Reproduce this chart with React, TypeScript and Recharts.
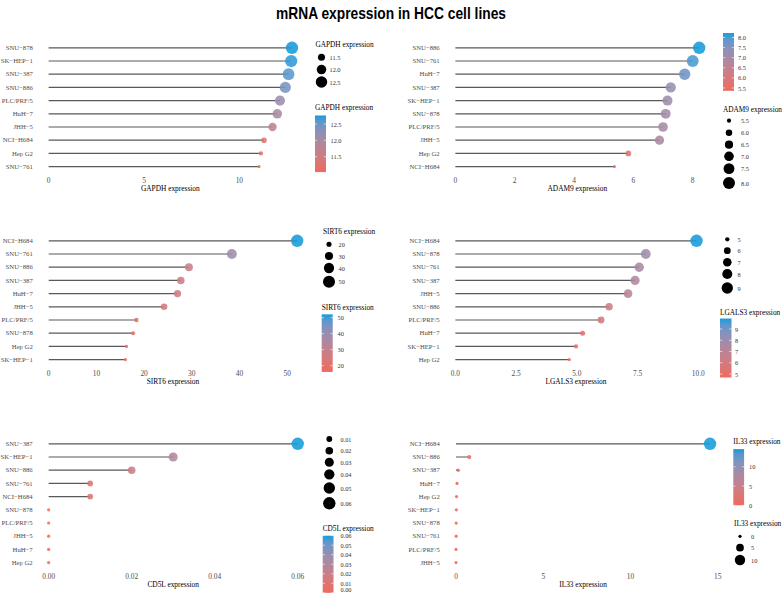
import React from 'react';
import { ComposedChart, Bar, XAxis, YAxis } from 'recharts';

// cell lines (top to bottom) and expression values, one pair per gene
const gapdhLines = ['SNU−878', 'SK−HEP−1', 'SNU−387', 'SNU−886', 'PLC/PRF/5', 'HuH−7', 'JHH−5', 'NCI−H684', 'Hep G2', 'SNU−761'];
const gapdhValues = [12.76, 12.72, 12.58, 12.41, 12.13, 11.99, 11.74, 11.29, 11.13, 11.03];

const adam9Lines = ['SNU−886', 'SNU−761', 'HuH−7', 'SNU−387', 'SK−HEP−1', 'SNU−878', 'PLC/PRF/5', 'JHH−5', 'Hep G2', 'NCI−H684'];
const adam9Values = [8.22, 8.0, 7.73, 7.26, 7.15, 7.09, 7.0, 6.88, 5.83, 5.36];

const sirt6Lines = ['NCI−H684', 'SNU−761', 'SNU−886', 'SNU−387', 'HuH−7', 'JHH−5', 'PLC/PRF/5', 'SNU−878', 'Hep G2', 'SK−HEP−1'];
const sirt6Values = [52.1, 38.4, 29.4, 27.7, 27.0, 24.2, 18.4, 17.7, 16.3, 16.1];

const lgals3Lines = ['NCI−H684', 'SNU−878', 'SNU−761', 'SNU−387', 'JHH−5', 'SNU−886', 'PLC/PRF/5', 'HuH−7', 'SK−HEP−1', 'Hep G2'];
const lgals3Values = [9.93, 7.84, 7.57, 7.4, 7.11, 6.33, 6.0, 5.24, 4.97, 4.69];

const cd5lLines = ['SNU−387', 'SK−HEP−1', 'SNU−886', 'SNU−761', 'NCI−H684', 'SNU−878', 'PLC/PRF/5', 'JHH−5', 'HuH−7', 'Hep G2'];
const cd5lValues = [0.06, 0.03, 0.02, 0.01, 0.01, 0, 0, 0, 0, 0];

const il33Lines = ['NCI−H684', 'SNU−886', 'SNU−387', 'HuH−7', 'Hep G2', 'SK−HEP−1', 'SNU−878', 'SNU−761', 'PLC/PRF/5', 'JHH−5'];
const il33Values = [14.56, 0.76, 0.13, 0.06, 0.03, 0.02, 0.01, 0.01, 0, 0];

// axis ticks
const gapdhTicks = [0, 5, 10];
const adam9Ticks = [0, 2, 4, 6, 8];
const sirt6Ticks = [0, 10, 20, 30, 40, 50];
const lgals3Ticks = [0, 2.5, 5, 7.5, 10];
const cd5lTicks = [0, 0.02, 0.04, 0.06];
const il33Ticks = [0, 5, 10, 15];

// legend breaks
const gapdhSizeBreaks = [11.5, 12.0, 12.5];
const gapdhColorBreaks = [12.5, 12.0, 11.5];
const adam9SizeBreaks = [5.5, 6.0, 6.5, 7.0, 7.5, 8.0];
const adam9ColorBreaks = [8.0, 7.5, 7.0, 6.5, 6.0, 5.5];
const sirt6SizeBreaks = [20, 30, 40, 50];
const sirt6ColorBreaks = [50, 40, 30, 20];
const lgals3SizeBreaks = [5, 6, 7, 8, 9];
const lgals3ColorBreaks = [9, 8, 7, 6, 5];
const cd5lSizeBreaks = [0.01, 0.02, 0.03, 0.04, 0.05, 0.06];
const cd5lColorBreaks = [0.06, 0.05, 0.04, 0.03, 0.02, 0.01, 0.0];
const il33SizeBreaks = [0, 5, 10];
const il33ColorBreaks = [10, 5, 0];

const SERIF = "'Liberation Serif', 'DejaVu Serif', serif";
const LOW = '#EE6A5F';
const HIGH = '#169CDB';
const R_MIN = 1.6;
const R_MAX = 6.2;

// colour interpolation in Lab, like ggplot's gradient
function toLab(hex: string) {
  const c = [1, 3, 5].map((i) => parseInt(hex.slice(i, i + 2), 16) / 255)
    .map((v) => (v <= 0.04045 ? v / 12.92 : Math.pow((v + 0.055) / 1.055, 2.4)));
  const X = (0.4124 * c[0] + 0.3576 * c[1] + 0.1805 * c[2]) / 0.95047;
  const Y = 0.2126 * c[0] + 0.7152 * c[1] + 0.0722 * c[2];
  const Z = (0.0193 * c[0] + 0.1192 * c[1] + 0.9505 * c[2]) / 1.08883;
  const f = (t: number) => (t > 0.008856 ? Math.cbrt(t) : 7.787 * t + 16 / 116);
  return [116 * f(Y) - 16, 500 * (f(X) - f(Y)), 200 * (f(Y) - f(Z))];
}

function fromLab([L, a, b]: number[]) {
  const fy = (L + 16) / 116;
  const fx = fy + a / 500;
  const fz = fy - b / 200;
  const inv = (t: number) => (t * t * t > 0.008856 ? t * t * t : (t - 16 / 116) / 7.787);
  const X = inv(fx) * 0.95047, Y = inv(fy), Z = inv(fz) * 1.08883;
  const lin = [
    3.2406 * X - 1.5372 * Y - 0.4986 * Z,
    -0.9689 * X + 1.8758 * Y + 0.0415 * Z,
    0.0557 * X - 0.204 * Y + 1.057 * Z,
  ];
  return '#' + lin.map((v) => {
    const s = v <= 0.0031308 ? 12.92 * v : 1.055 * Math.pow(v, 1 / 2.4) - 0.055;
    return Math.round(Math.min(1, Math.max(0, s)) * 255).toString(16).padStart(2, '0');
  }).join('');
}

const labLow = toLab(LOW);
const labHigh = toLab(HIGH);
const colorAt = (t: number) => fromLab(labLow.map((v, i) => v + (labHigh[i] - v) * t));

const rescale = (v: number, min: number, max: number) => (max === min ? 0 : (v - min) / (max - min));
const radiusAt = (t: number) => Math.sqrt(R_MIN * R_MIN + t * (R_MAX * R_MAX - R_MIN * R_MIN));

const panels = [
  {
    id: 'gapdh', lines: gapdhLines, values: gapdhValues, ticks: gapdhTicks, digits: 0, title: 'GAPDH expression',
    left: 0, yWidth: 36.4, xRight: 304.2, plotTop: 40.7, domain: [-0.64, 13.4],
    size: { title: 'GAPDH expression', titleY: 44.5, x: 321.5, ys: [57.3, 69.6, 82], breaks: gapdhSizeBreaks, labelX: 329.5, digits: 1 },
    bar: { title: 'GAPDH expression', titleY: 107.7, x: 315, w: 11, a: [12.5, 124], b: [11.5, 156.7], breaks: gapdhColorBreaks, labelX: 330.5, digits: 1 },
  },
  {
    id: 'adam9', lines: adam9Lines, values: adam9Values, ticks: adam9Ticks, digits: 0, title: 'ADAM9 expression',
    left: 395, yWidth: 48.2, xRight: 711.4, plotTop: 40.7, domain: [-0.41, 8.63],
    size: { title: 'ADAM9 expression', titleY: 109, x: 729, ys: [120.7, 132.7, 144.7, 156.3, 168.7, 183], breaks: adam9SizeBreaks, labelX: 741, digits: 1 },
    bar: { title: '', titleY: 0, x: 723, w: 11, a: [8.0, 37.5], b: [5.5, 88], breaks: adam9ColorBreaks, labelX: 738, digits: 1 },
  },
  {
    id: 'sirt6', lines: sirt6Lines, values: sirt6Values, ticks: sirt6Ticks, digits: 0, title: 'SIRT6 expression',
    left: 0, yWidth: 36.3, xRight: 309.6, plotTop: 234.1, domain: [-2.6, 54.7],
    size: { title: 'SIRT6 expression', titleY: 231.7, x: 329, ys: [244.3, 256, 268, 281.7], breaks: sirt6SizeBreaks, labelX: 338.5, digits: 0 },
    bar: { title: 'SIRT6 expression', titleY: 307.3, x: 321.7, w: 11, a: [50, 317.7], b: [20, 365.7], breaks: sirt6ColorBreaks, labelX: 337.5, digits: 0 },
  },
  {
    id: 'lgals3', lines: lgals3Lines, values: lgals3Values, ticks: lgals3Ticks, digits: 1, title: 'LGALS3 expression',
    left: 395, yWidth: 48.2, xRight: 708.7, plotTop: 234.1, domain: [-0.5, 10.43],
    size: { title: '', titleY: 0, x: 727.3, ys: [239.3, 250.7, 262.3, 274, 288], breaks: lgals3SizeBreaks, labelX: 737.5, digits: 0 },
    bar: { title: 'LGALS3 expression', titleY: 312.7, x: 720, w: 11.5, a: [9, 329], b: [5, 374], breaks: lgals3ColorBreaks, labelX: 735, digits: 0 },
  },
  {
    id: 'cd5l', lines: cd5lLines, values: cd5lValues, ticks: cd5lTicks, digits: 2, title: 'CD5L expression',
    left: 0, yWidth: 36.2, xRight: 310.2, plotTop: 436.7, domain: [-0.003, 0.063],
    size: { title: '', titleY: 0, x: 329.3, ys: [439, 450.7, 462.3, 474.3, 488, 503.3], breaks: cd5lSizeBreaks, labelX: 340.5, digits: 2 },
    bar: { title: 'CD5L expression', titleY: 528.3, x: 322.7, w: 10.8, a: [0.06, 535.7], b: [0.01, 583.3], breaks: cd5lColorBreaks, labelX: 340.5, digits: 2 },
  },
  {
    id: 'il33', lines: il33Lines, values: il33Values, ticks: il33Ticks, digits: 0, title: 'IL33 expression',
    left: 395, yWidth: 48.3, xRight: 722.8, plotTop: 436.7, domain: [-0.728, 15.29],
    size: { title: 'IL33 expression', titleY: 523.3, x: 740, ys: [536.3, 547.7, 560], breaks: il33SizeBreaks, labelX: 751, digits: 0 },
    bar: { title: 'IL33 expression', titleY: 441.7, x: 733.3, w: 10.8, a: [10, 466.7], b: [0, 505.3], breaks: il33ColorBreaks, labelX: 749, digits: 0 },
  },
];

const XTick = ({ x, y, payload, digits }: any) => (
  <text x={x} y={y + 7.3} textAnchor="middle" dominantBaseline="central" fontSize={7.4} fontFamily={SERIF} fill="#4d4d4d">
    {Number(payload.value).toFixed(digits)}
  </text>
);

const YTick = ({ x, y, payload }: any) => (
  <text x={x - 3.5} y={y} textAnchor="end" dominantBaseline="central" fontSize={6.7} fontFamily={SERIF} fill="#4d4d4d">
    {payload.value}
  </text>
);

function Lollipop({ p }: any) {
  const data = p.lines.map((line: string, i: number) => ({ line, value: p.values[i] }));
  const min = Math.min(...p.values);
  const max = Math.max(...p.values);

  const shape = (props: any) => {
    const { x, y, width, height, payload } = props;
    const cy = y + height / 2;
    const t = rescale(payload.value, min, max);
    return (
      <g>
        <line x1={x} x2={x + width} y1={cy} y2={cy} stroke="#595959" strokeWidth={1.2} />
        <circle cx={x + width} cy={cy} r={radiusAt(t)} fill={colorAt(t)} fillOpacity={0.88} />
      </g>
    );
  };

  return (
    <div style={{ position: 'absolute', left: p.left, top: p.plotTop - 10 }}>
      <ComposedChart layout="vertical" width={p.xRight - p.left} height={167} data={data}
        margin={{ top: 10, right: 0, bottom: 0, left: 0 }}>
        <XAxis type="number" domain={p.domain} ticks={p.ticks} allowDataOverflow interval={0}
          tickLine={false} axisLine={false} tickSize={0} tickMargin={0} height={25}
          tick={<XTick digits={p.digits} />}
          label={{ value: p.title, position: 'insideBottom', offset: 7, fill: '#000', fontSize: 7.4, fontFamily: SERIF }} />
        <YAxis type="category" dataKey="line" width={p.yWidth} interval={0}
          tickLine={false} axisLine={false} tickSize={0} tickMargin={0} tick={<YTick />} />
        <Bar dataKey="value" isAnimationActive={false} shape={shape} />
      </ComposedChart>
    </div>
  );
}

function SizeLegend({ p }: any) {
  const s = p.size;
  const min = Math.min(...p.values);
  const max = Math.max(...p.values);
  return (
    <g fontFamily={SERIF}>
      {s.title && <text x={s.x - 6} y={s.titleY} dominantBaseline="central" fontSize={7.3} fill="#000">{s.title}</text>}
      {s.breaks.map((b: number, i: number) => (
        <g key={b}>
          <circle cx={s.x} cy={s.ys[i]} r={radiusAt(rescale(b, min, max))} fill="#000" />
          <text x={s.labelX} y={s.ys[i]} dominantBaseline="central" fontSize={6.3} fill="#333">{b.toFixed(s.digits)}</text>
        </g>
      ))}
    </g>
  );
}

function ColorBar({ p }: any) {
  const c = p.bar;
  const min = Math.min(...p.values);
  const max = Math.max(...p.values);
  const perUnit = (c.b[1] - c.a[1]) / (c.b[0] - c.a[0]);
  const yOf = (v: number) => c.a[1] + (v - c.a[0]) * perUnit;
  const top = yOf(max);
  const bottom = yOf(min);
  const stops = Array.from({ length: 11 }, (_, i) => i / 10);
  const tick = c.w / 5;
  return (
    <g fontFamily={SERIF}>
      <defs>
        <linearGradient id={`grad-${p.id}`} x1="0" y1="1" x2="0" y2="0">
          {stops.map((t) => <stop key={t} offset={t} stopColor={colorAt(t)} />)}
        </linearGradient>
      </defs>
      {c.title && <text x={c.x} y={c.titleY} dominantBaseline="central" fontSize={7.3} fill="#000">{c.title}</text>}
      <rect x={c.x} y={top} width={c.w} height={bottom - top} fill={`url(#grad-${p.id})`} />
      {c.breaks.map((b: number) => (
        <g key={b}>
          <line x1={c.x} x2={c.x + tick} y1={yOf(b)} y2={yOf(b)} stroke="#fff" strokeWidth={0.6} />
          <line x1={c.x + c.w - tick} x2={c.x + c.w} y1={yOf(b)} y2={yOf(b)} stroke="#fff" strokeWidth={0.6} />
          {/* keep the lowest label inside the page */}
          <text x={c.labelX} y={Math.min(yOf(b), 589)} dominantBaseline="central" fontSize={6.3} fill="#333">{b.toFixed(c.digits)}</text>
        </g>
      ))}
    </g>
  );
}

export default function App() {
  return (
    <div style={{ position: 'absolute', left: 0, top: 0, width: 782, height: 593, overflow: 'hidden', background: '#fff' }}>
      {panels.map((p) => <Lollipop key={p.id} p={p} />)}
      <svg width={782} height={593} style={{ position: 'absolute', left: 0, top: 0, pointerEvents: 'none' }}>
        <text x={391} y={19} textAnchor="middle" fontSize={17} fontWeight="bold" textLength={230} lengthAdjust="spacingAndGlyphs"
          fontFamily="'Liberation Sans Narrow', 'Arial Narrow', 'Liberation Sans', sans-serif" fill="#000">
          mRNA expression in HCC cell lines
        </text>
        {panels.map((p) => (
          <g key={p.id}>
            <SizeLegend p={p} />
            <ColorBar p={p} />
          </g>
        ))}
      </svg>
    </div>
  );
}
